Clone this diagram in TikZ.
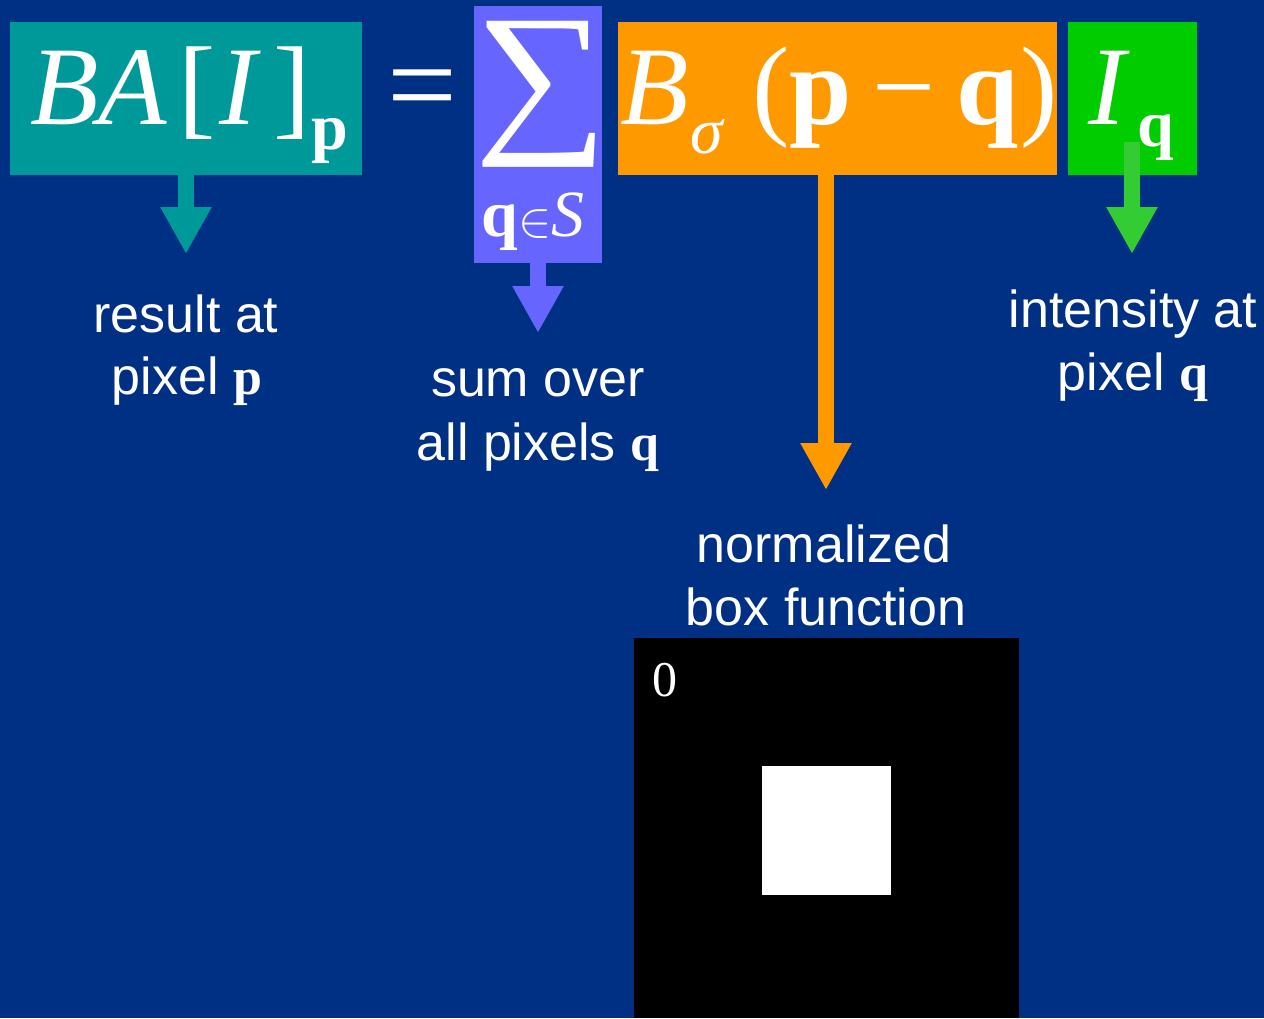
\documentclass[tikz,border=0pt]{standalone}
\usepackage{fontspec}
\usepackage{graphicx}
\setmainfont{Liberation Sans}
\newfontfamily\tms{Liberation Serif}
\usetikzlibrary{arrows.meta}
\definecolor{bgnavy}{RGB}{0,48,132}
\definecolor{cteal}{HTML}{009999}
\definecolor{cpurple}{HTML}{6666FF}
\definecolor{corange}{HTML}{FF9900}
\definecolor{cgreen}{HTML}{00CC00}
\definecolor{carrowgreen}{HTML}{33CC33}
\tikzset{
  box/.style={fill=#1, draw=none, inner sep=0pt, anchor=center},
  glyph/.style={text=white, inner sep=0pt, anchor=base west, font=\tms\fontsize{56pt}{56pt}\selectfont},
  subglyph/.style={text=white, inner sep=0pt, anchor=base west, font=\tms\fontsize{33pt}{33pt}\selectfont},
  label/.style={text=white, inner sep=0pt, anchor=base, font=\fontsize{26pt}{31pt}\selectfont},
  bigarrow/.style={draw=#1, line width=8pt, -{Triangle[width=24pt,length=23.5pt]}, fill=#1}
}
\begin{document}
\begin{tikzpicture}[x=0.5pt,y=-0.5pt]
\useasboundingbox (0,0) rectangle (1264,1018);
\fill[bgnavy] (0,0) rectangle (1264,1018);

% coloured boxes
\node[box=cteal, minimum width=176pt, minimum height=76.5pt] (teal) at (186,98.5) {};
\node[box=cpurple, minimum width=64pt, minimum height=128.5pt] (purple) at (538,134.5) {};
\node[box=corange, minimum width=219.5pt, minimum height=76.5pt] (orange) at (837.5,98.5) {};
\node[box=cgreen, minimum width=64.5pt, minimum height=76.5pt] (green) at (1132.5,98.5) {};

% BA[I]_p
\node[glyph] (tBA) at (30,124) {\itshape BA};
\node[glyph] (tLB) at (178,124) {[};
\node[glyph] (tI) at (219,124) {\itshape I};
\node[glyph] (tRB) at (273,124) {]};
\node[subglyph] (tP) at (311,149) {\bfseries p};

% equals
\node[glyph, font=\tms\fontsize{62pt}{62pt}\selectfont] (eq) at (387,126) {=};

% sum
\node[text=white, inner sep=0pt, anchor=north west] (sig) at (474,21) {\resizebox*{67pt}{73pt}{\tms ∑}};
\node[subglyph] (sub) at (481,236) {{\bfseries q}$\in${\itshape S}};

% B_sigma(p-q)
\node[glyph] (oB) at (620,124) {\itshape B};
\node[subglyph] (osig) at (690,153) {\itshape σ};
\node[glyph] (oL) at (752,124) {(};
\node[glyph] (oP) at (789,124) {\bfseries p};
\node[glyph] (oM) at (872,124) {−};
\node[glyph] (oQ) at (956,124) {\bfseries q};
\node[glyph] (oR) at (1020,124) {)};

% I_q
\node[glyph] (gI) at (1088,124) {\itshape I};
\node[subglyph] (gQ) at (1137,146) {\bfseries q};

% labels
\node[label] (l1a) at (186,332) {result at};
\node[label] (l1b) at (187,394) {pixel {\tms\bfseries p}};
\node[label] (l2a) at (538,396) {sum over};
\node[label] (l2b) at (538,460) {all pixels {\tms\bfseries q}};
\node[label] (l3a) at (824,562) {normalized};
\node[label] (l3b) at (826,625) {box function};
\node[label] (l4a) at (1133,327) {intensity at};
\node[label] (l4b) at (1133,390) {pixel {\tms\bfseries q}};

% arrow end points
\coordinate (tipT) at (186,254);
\coordinate (tipP) at (538,333);
\coordinate (tipO) at (826,490);
\coordinate (startG) at (1132,142);
\coordinate (tipG) at (1132,254);

\draw[bigarrow=cteal] (teal.south) -- (tipT);
\draw[bigarrow=cpurple] (purple.south) -- (tipP);
\draw[bigarrow=corange] (orange.south -| tipO) -- (tipO);
\draw[bigarrow=carrowgreen] (startG) -- (tipG);

% box function image
\node[box=black, minimum width=192.5pt, minimum height=190pt] (blackbox) at (826.5,828) {};
\node[box=white, minimum width=64.5pt, minimum height=64.5pt] (whitesq) at (826.5,830.5) {};
\node[text=white, inner sep=0pt, anchor=base west, font=\tms\fontsize{25pt}{25pt}\selectfont] (zero) at (652,696) {0};
\end{tikzpicture}
\end{document}
